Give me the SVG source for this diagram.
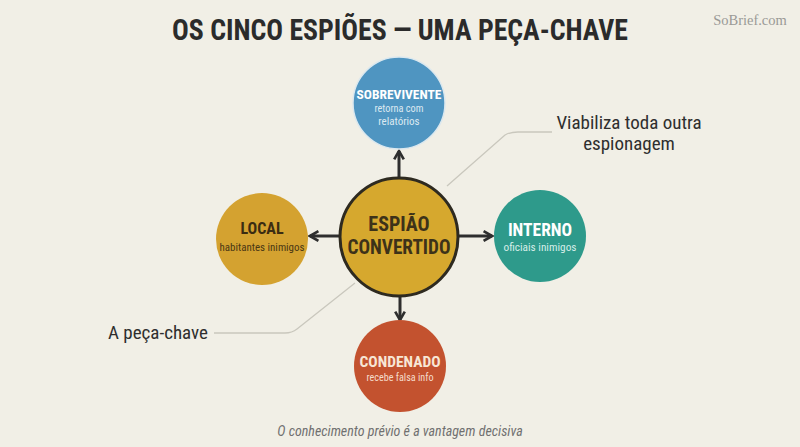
<svg xmlns="http://www.w3.org/2000/svg" width="800" height="447" viewBox="0 0 800 447">
<style>
.cond{font-family:"Liberation Sans Narrow","Roboto Condensed","Liberation Sans",sans-serif;}
.title{font-weight:bold;font-size:30px;fill:#2b2b2b;}
.hd{font-weight:bold;}
.sub{font-size:11px;}
.note{font-size:19px;fill:#2e2e2e;}
.conn{stroke:#2e2e2e;stroke-width:3;fill:none;}
.lead{stroke:#c9c7bd;stroke-width:1.3;fill:none;}
</style>
<defs>
<marker id="ah" viewBox="0 0 10 10" refX="8" refY="5" markerWidth="4" markerHeight="4" orient="auto" markerUnits="strokeWidth">
<path d="M1,1 L8,5 L1,9" fill="none" stroke="#2e2e2e" stroke-width="2.2"/>
</marker>
</defs>
<rect width="800" height="447" fill="#f1efe6"/>
<text class="cond title" x="400" y="40" text-anchor="middle" textLength="456" lengthAdjust="spacingAndGlyphs">OS CINCO ESPIÕES — UMA PEÇA-CHAVE</text>
<text x="750" y="25" text-anchor="middle" font-family="Liberation Serif,serif" font-size="14.5" fill="#9a9a96">SoBrief.com</text>
<g id="leaders">
<path class="lead" d="M447,186 L505,135 Q510,132 518,132 L552,132"/>
<path class="lead" d="M355,283 L297,329 Q292,333 285,333 L214,333"/>
</g>
<g id="connectors">
<line class="conn" x1="399" y1="177" x2="399" y2="151" marker-end="url(#ah)"/>
<line class="conn" x1="339" y1="236" x2="310" y2="236" marker-end="url(#ah)"/>
<line class="conn" x1="459" y1="236" x2="492" y2="236" marker-end="url(#ah)"/>
<line class="conn" x1="400" y1="297" x2="400" y2="320" marker-end="url(#ah)"/>
</g>
<g id="sobrevivente">
<circle cx="399" cy="103" r="46" fill="#4f95c1" stroke="#dbe8ef" stroke-width="1.5"/>
<text class="cond hd" x="399" y="99" text-anchor="middle" font-size="13.5" fill="#ffffff">SOBREVIVENTE</text>
<text class="cond sub" x="399" y="112" text-anchor="middle" fill="#dce9f1" textLength="49" lengthAdjust="spacingAndGlyphs">retorna com</text>
<text class="cond sub" x="399" y="125" text-anchor="middle" fill="#dce9f1">relatórios</text>
</g>
<g id="local">
<circle cx="262" cy="239" r="46" fill="#d4a230"/>
<text class="cond hd" x="262" y="234" text-anchor="middle" font-size="16" fill="#3b2c12">LOCAL</text>
<text class="cond sub" x="262" y="251" text-anchor="middle" fill="#4a3714" textLength="85" lengthAdjust="spacingAndGlyphs">habitantes inimigos</text>
</g>
<g id="convertido">
<circle cx="399" cy="237" r="59" fill="#d6a82e" stroke="#2e2a20" stroke-width="3"/>
<text class="cond hd" x="399" y="231" text-anchor="middle" font-size="20" fill="#3d3219">ESPIÃO</text>
<text class="cond hd" x="399" y="254" text-anchor="middle" font-size="20" fill="#3d3219" textLength="103" lengthAdjust="spacingAndGlyphs">CONVERTIDO</text>
</g>
<g id="interno">
<circle cx="540" cy="236" r="46" fill="#2e9a8b"/>
<text class="cond hd" x="540" y="236" text-anchor="middle" font-size="17.5" fill="#ffffff">INTERNO</text>
<text class="cond sub" x="540" y="251" text-anchor="middle" fill="#d5ede8" textLength="73" lengthAdjust="spacingAndGlyphs">oficiais inimigos</text>
</g>
<g id="condenado">
<circle cx="400" cy="366" r="46" fill="#c3522f"/>
<text class="cond hd" x="400" y="367" text-anchor="middle" font-size="15.5" fill="#f7e6d6">CONDENADO</text>
<text class="cond sub" x="400" y="381" text-anchor="middle" fill="#f5dccb" textLength="67" lengthAdjust="spacingAndGlyphs">recebe falsa info</text>
</g>
<g id="annotations">
<text class="cond note" x="629" y="129" text-anchor="middle">Viabiliza toda outra</text>
<text class="cond note" x="629" y="150" text-anchor="middle">espionagem</text>
<text class="cond note" x="158" y="339" text-anchor="middle">A peça-chave</text>
</g>
<text class="cond" x="400" y="436" text-anchor="middle" font-size="14" font-style="italic" fill="#707070">O conhecimento prévio é a vantagem decisiva</text>
</svg>
